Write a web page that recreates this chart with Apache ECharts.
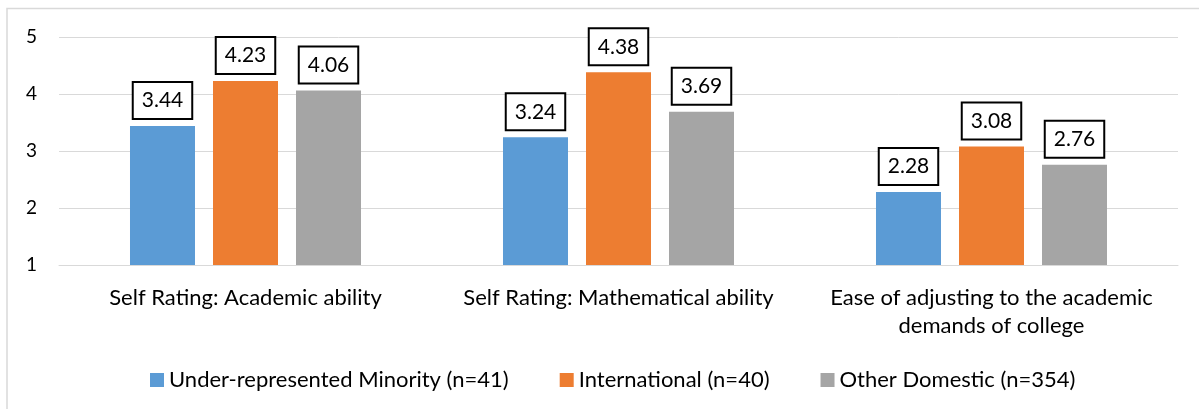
<!DOCTYPE html>
<html><head><meta charset="utf-8">
<script src="https://cdn.jsdelivr.net/npm/echarts@6/dist/echarts.min.js"></script>
<style>html,body{margin:0;padding:0;background:#fff}#c{width:1199px;height:409px}</style>
</head><body><div id="c"></div>
<script>
const categories = ["Self Rating: Academic ability", "Self Rating: Mathematical ability", "Ease of adjusting to the academic\ndemands of college"];
const seriesNames = ["Under-represented Minority (n=41)", "International (n=40)", "Other Domestic (n=354)"];
const urmValues = [3.44, 3.24, 2.28];
const intlValues = [4.23, 4.38, 3.08];
const otherValues = [4.06, 3.69, 2.76];
const colors = ["#5b9bd5", "#ed7d31", "#a5a5a5"];
const FONT = "Lato";
const chart = echarts.init(document.getElementById('c'));
const mk = (name, data, color) => ({
  name, type: 'bar', data, barWidth: 65, barGap: '27.7%',
  itemStyle: { color },
  label: { show: true, position: 'top', distance: 8, formatter: p => p.value.toFixed(2),
    fontFamily: FONT, fontSize: 21, color: '#000', backgroundColor: '#fff',
    borderColor: '#000', borderWidth: 2, padding: [7, 8, 7, 8] }
});
chart.setOption({
  animation: false,
  textStyle: { fontFamily: FONT },
  graphic: [{ type: 'rect', shape: { x: 7, y: 8.5, width: 1220, height: 420 }, style: { fill: 'none', stroke: '#d9d9d9', lineWidth: 1.5 } }],
  grid: { left: 59, right: 21, top: 37, bottom: 144 },
  legend: { top: 364, left: 145, itemWidth: 14, itemHeight: 14, itemGap: 51, icon: 'rect',
    textStyle: { fontFamily: FONT, fontSize: 22, color: '#000' } },
  xAxis: { type: 'category', data: categories,
    axisLine: { show: true, lineStyle: { color: '#d9d9d9', width: 1 } }, axisTick: { show: false },
    axisLabel: { fontFamily: FONT, fontSize: 22, color: '#000', margin: 19, lineHeight: 28, interval: 0 } },
  yAxis: { type: 'value', min: 1, max: 5, interval: 1,
    axisLine: { show: false }, axisTick: { show: false },
    splitLine: { lineStyle: { color: '#d9d9d9', width: 1 } },
    axisLabel: { fontFamily: FONT, fontSize: 19, color: '#000', margin: 22 } },
  series: [mk(seriesNames[0], urmValues, colors[0]), mk(seriesNames[1], intlValues, colors[1]), mk(seriesNames[2], otherValues, colors[2])]
});
</script></body></html>
